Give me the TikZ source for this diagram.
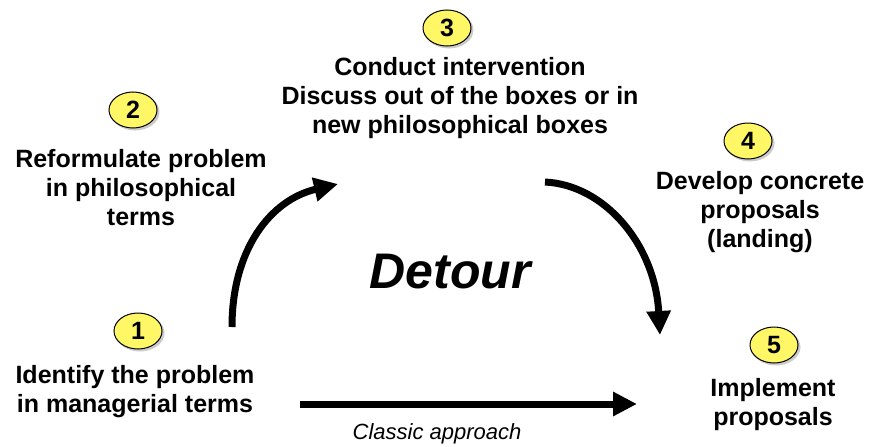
\documentclass[tikz,border=0pt]{standalone}
\usepackage{fontspec}
\setmainfont{Liberation Sans}
\usetikzlibrary{arrows.meta}
\tikzset{
  num/.style={ellipse, draw=black, line width=1pt, fill=yellow!60!white, minimum width=48pt, minimum height=36pt, inner sep=0pt, font=\fontsize{25}{29}\selectfont\bfseries},
  lbl/.style={align=center, inner sep=0pt, font=\fontsize{25}{29}\selectfont\bfseries},
  bigarrow/.style={line width=7pt, -{Triangle[length=24pt,width=23pt]}}
}
\usetikzlibrary{shapes.geometric}
\begin{document}
\begin{tikzpicture}[x=1pt,y=-1pt]
\useasboundingbox (0,0) rectangle (870,447);
\foreach \p in {(138,331),(133,110),(447,28),(748,141),(774,345)}
  \fill[gray!40] \p ++(2,2) ellipse [x radius=24.5pt, y radius=18.5pt];
\node[num] (n1) at (138,331) {1};
\node[num] (n2) at (133,110) {2};
\node[num] (n3) at (447,28) {3};
\node[num] (n4) at (748,141) {4};
\node[num] (n5) at (774,345) {5};
\node[lbl] (t1) at (135,392) {Identify the problem\\in managerial terms};
\node[lbl] (t2) at (141,188) {Reformulate problem\\in philosophical\\terms};
\node[lbl] (t3) at (460,98) {Conduct intervention\\Discuss out of the boxes or in\\new philosophical boxes};
\node[lbl] (t4) at (760,212) {Develop concrete\\proposals\\(landing)};
\node[lbl] (t5) at (773,405) {Implement\\proposals};
\node[inner sep=0pt, font=\fontsize{50}{56}\selectfont\bfseries\itshape] (det) at (450,272) {Detour};
\node[inner sep=0pt, font=\fontsize{22}{26}\selectfont\itshape] (cls) at (437,434) {Classic approach};
\coordinate (a1s) at (300,404);
\coordinate (a1e) at (637,404);
\draw[bigarrow] (a1s) -- (a1e);
\coordinate (a2s) at (232,327);
\coordinate (a2e) at (338,184);
\draw[bigarrow] (a2s) .. controls (232,250) and (270,200) .. (a2e);
\coordinate (a3s) at (545,182);
\coordinate (a3e) at (660,335);
\draw[bigarrow] (a3s) .. controls (605,185) and (655,245) .. (a3e);
\end{tikzpicture}
\end{document}
